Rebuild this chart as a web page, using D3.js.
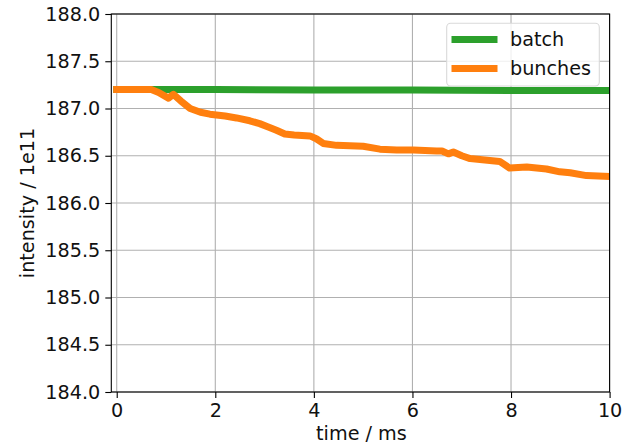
<!DOCTYPE html>
<html>
<head>
<meta charset="utf-8">
<script src="https://cdn.jsdelivr.net/npm/d3@7"></script>
<style>
  html, body { margin: 0; padding: 0; background: #fff; }
  svg { display: block; }
  text { font-family: "DejaVu Sans", sans-serif; fill: #111; }
</style>
</head>
<body>
<svg id="chart" width="627" height="446"></svg>
<script>
// Beam intensity over time: whole batch vs. sum of bunches
const batchTime = [0, 2, 4, 6, 8, 10];
const batchValues = [187.20, 187.20, 187.195, 187.195, 187.19, 187.19];

const bunchTime = [0, 0.7, 0.85, 1.05, 1.15, 1.3, 1.49, 1.7, 1.89, 2.2, 2.43, 2.7, 2.9, 3.1, 3.24,
  3.41, 3.6, 3.92, 4.05, 4.19, 4.46, 5.0, 5.34, 5.68, 6.02, 6.49, 6.6, 6.73, 6.83, 7.0, 7.17,
  7.57, 7.77, 7.97, 8.32, 8.72, 8.99, 9.2, 9.53, 10];
const bunchValues = [187.20, 187.20, 187.17, 187.11, 187.15, 187.08, 187.00, 186.96, 186.94, 186.92,
  186.90, 186.87, 186.84, 186.80, 186.77, 186.73, 186.72, 186.71, 186.68, 186.63, 186.61, 186.60,
  186.57, 186.56, 186.56, 186.55, 186.55, 186.52, 186.54, 186.50, 186.47, 186.45, 186.44, 186.37,
  186.38, 186.36, 186.33, 186.32, 186.29, 186.28];

const xTicks = [0, 2, 4, 6, 8, 10];
const yTicks = [184.0, 184.5, 185.0, 185.5, 186.0, 186.5, 187.0, 187.5, 188.0];
const seriesNames = ["batch", "bunches"];
const seriesColors = ["#2ca02c", "#ff7f0e"];

const svg = d3.select("#chart");
const box = { left: 111.3, right: 609.6, top: 14, bottom: 392 };
const fontSize = 19.2;

const x = d3.scaleLinear().domain([-0.11, 10]).range([box.left, box.right]);
const y = d3.scaleLinear().domain([184, 188]).range([box.bottom, box.top]);

svg.append("defs").append("clipPath").attr("id", "plotclip")
  .append("rect")
  .attr("x", box.left).attr("y", box.top)
  .attr("width", box.right - box.left).attr("height", box.bottom - box.top);

// grid
const grid = svg.append("g").attr("stroke", "#b0b0b0").attr("stroke-width", 1.1);
grid.selectAll("line.gx").data(xTicks).join("line")
  .attr("x1", d => x(d)).attr("x2", d => x(d))
  .attr("y1", box.top).attr("y2", box.bottom);
grid.selectAll("line.gy").data(yTicks).join("line")
  .attr("x1", box.left).attr("x2", box.right)
  .attr("y1", d => y(d)).attr("y2", d => y(d));

// series
const line = d3.line().x(d => x(d[0])).y(d => y(d[1]));
const series = [
  d3.zip(batchTime, batchValues),
  d3.zip(bunchTime, bunchValues)
];
const lines = svg.append("g").attr("clip-path", "url(#plotclip)");
series.forEach((pts, i) => {
  lines.append("path")
    .attr("d", line(pts))
    .attr("fill", "none")
    .attr("stroke", seriesColors[i])
    .attr("stroke-width", 7)
    .attr("stroke-linejoin", "round")
    .attr("stroke-linecap", "square");
});

// axes
const xAxis = d3.axisBottom(x).tickValues(xTicks).tickFormat(d3.format("d"))
  .tickSizeInner(6).tickSizeOuter(0).tickPadding(5);
const yAxis = d3.axisLeft(y).tickValues(yTicks).tickFormat(d3.format(".1f"))
  .tickSizeInner(6).tickSizeOuter(0).tickPadding(5);

const gx = svg.append("g").attr("transform", `translate(0,${box.bottom})`).call(xAxis);
const gy = svg.append("g").attr("transform", `translate(${box.left},0)`).call(yAxis);
[gx, gy].forEach(g => {
  g.select(".domain").remove();
  g.selectAll(".tick line").attr("stroke", "#000").attr("stroke-width", 1.1);
  g.selectAll(".tick text").attr("font-size", fontSize).attr("font-family", "DejaVu Sans").attr("fill", "#111");
});

// frame
svg.append("rect")
  .attr("x", box.left).attr("y", box.top)
  .attr("width", box.right - box.left).attr("height", box.bottom - box.top)
  .attr("fill", "none").attr("stroke", "#000").attr("stroke-width", 1.1);

// axis titles
svg.append("text")
  .attr("x", (box.left + box.right) / 2 + 1).attr("y", 440)
  .attr("text-anchor", "middle").attr("font-size", fontSize)
  .text("time / ms");
svg.append("text")
  .attr("transform", `translate(34,${(box.top + box.bottom) / 2}) rotate(-90)`)
  .attr("text-anchor", "middle").attr("font-size", fontSize)
  .text("intensity / 1e11");

// legend
const legend = svg.append("g");
legend.append("rect")
  .attr("x", 446.7).attr("y", 23.3).attr("width", 152.6).attr("height", 62.7)
  .attr("rx", 4).attr("fill", "#fff").attr("fill-opacity", 0.8)
  .attr("stroke", "#d9d9d9").attr("stroke-width", 1.1);
seriesNames.forEach((name, i) => {
  const cy = 39.5 + i * 29;
  legend.append("line")
    .attr("x1", 455).attr("x2", 494).attr("y1", cy).attr("y2", cy)
    .attr("stroke", seriesColors[i]).attr("stroke-width", 7).attr("stroke-linecap", "square");
  legend.append("text")
    .attr("x", 510).attr("y", cy + 6.5)
    .attr("font-size", fontSize)
    .text(name);
});
</script>
</body>
</html>
